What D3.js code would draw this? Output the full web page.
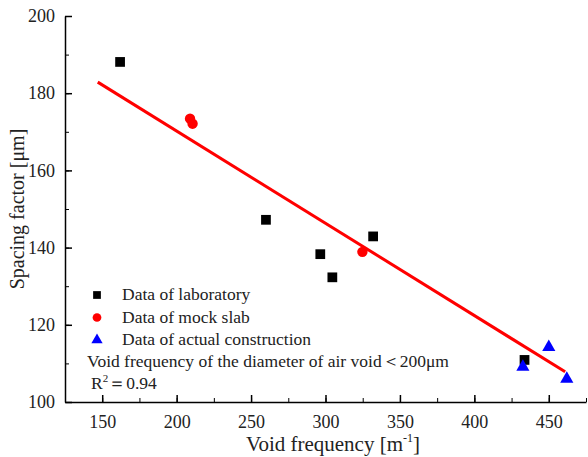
<!DOCTYPE html>
<html>
<head>
<meta charset="utf-8">
<script src="https://cdn.jsdelivr.net/npm/d3@7"></script>
<style>
body { margin: 0; background: #fff; }
text { font-family: "Liberation Serif", "Times New Roman", serif; }
</style>
</head>
<body>
<div id="chart"></div>
<script>
// data
var labX = [162, 260, 296.5, 304.6, 332, 433.7];
var labY = [188.1, 147.2, 138.3, 132.3, 142.9, 110.9];
var slabX = [209, 210.7, 324.8];
var slabY = [173.4, 172.1, 138.9];
var siteX = [432.6, 450, 462.1];
var siteY = [109.1, 114.2, 106];
var fitRange = [147, 461];
var fitSlope = -0.239;
var fitIntercept = 218.0;
var xTicks = [150, 200, 250, 300, 350, 400, 450];
var yTicks = [100, 120, 140, 160, 180, 200];
var legendNames = ["Data of laboratory", "Data of mock slab", "Data of actual construction"];

var w = 588, h = 457;
var margin = {left: 65, top: 16, right: 2, bottom: 55};

var svg = d3.select("#chart").append("svg")
    .attr("width", w)
    .attr("height", h);

var x = d3.scaleLinear().domain([125, 475]).range([margin.left, w - margin.right]);
var y = d3.scaleLinear().domain([100, 200]).range([h - margin.bottom, margin.top]);

// minor ticks first
svg.append("g")
    .attr("transform", "translate(0," + y(100) + ")")
    .call(d3.axisBottom(x).tickValues(d3.range(125, 476, 25)).tickSize(-4).tickFormat(""))
    .call(function(g) { g.select(".domain").remove(); });
svg.append("g")
    .attr("transform", "translate(" + x(125) + ",0)")
    .call(d3.axisLeft(y).tickValues(d3.range(100, 201, 10)).tickSize(-4).tickFormat(""))
    .call(function(g) { g.select(".domain").remove(); });

var xAxis = svg.append("g")
    .attr("transform", "translate(0," + y(100) + ")")
    .call(d3.axisBottom(x).tickValues(xTicks).tickSizeInner(-7).tickSizeOuter(0).tickPadding(13));
var yAxis = svg.append("g")
    .attr("transform", "translate(" + x(125) + ",0)")
    .call(d3.axisLeft(y).tickValues(yTicks).tickSizeInner(-7).tickSizeOuter(0).tickPadding(10));

[xAxis, yAxis].forEach(function(a) {
    a.selectAll("path, line").attr("stroke", "#000").attr("stroke-width", 1.5);
    a.selectAll("text").attr("font-size", 18).attr("fill", "#222")
        .style("font-family", "'Liberation Serif', serif");
});

// axis titles
svg.append("text")
    .attr("x", 333).attr("y", 451)
    .attr("text-anchor", "middle")
    .attr("font-size", 21).attr("fill", "#222")
    .html('Void frequency [m<tspan dy="-9" font-size="12">-1</tspan><tspan dy="9">]</tspan>');
svg.append("text")
    .attr("transform", "translate(24," + y(150) + ") rotate(-90)")
    .attr("text-anchor", "middle")
    .attr("font-size", 20).attr("fill", "#222")
    .text("Spacing factor [μm]");

// fitted line
svg.append("line")
    .attr("x1", x(fitRange[0])).attr("y1", y(fitIntercept + fitSlope * fitRange[0]))
    .attr("x2", x(fitRange[1])).attr("y2", y(fitIntercept + fitSlope * fitRange[1]))
    .attr("stroke", "#f00")
    .attr("stroke-width", 3);

var sq = d3.symbol().type(d3.symbolSquare).size(95);
var ci = d3.symbol().type(d3.symbolCircle).size(85);
var tr = d3.symbol().type(d3.symbolTriangle).size(75);

svg.selectAll(".lab").data(labX).enter().append("path")
    .attr("d", sq)
    .attr("transform", function(d, i) { return "translate(" + x(d) + "," + y(labY[i]) + ")"; })
    .attr("fill", "#000");
svg.selectAll(".slab").data(slabX).enter().append("path")
    .attr("d", ci)
    .attr("transform", function(d, i) { return "translate(" + x(d) + "," + y(slabY[i]) + ")"; })
    .attr("fill", "#f00");
svg.selectAll(".site").data(siteX).enter().append("path")
    .attr("d", tr)
    .attr("transform", function(d, i) { return "translate(" + x(d) + "," + y(siteY[i]) + ")"; })
    .attr("fill", "#00f");

// legend
var symbols = [d3.symbol().type(d3.symbolSquare).size(60), d3.symbol().type(d3.symbolCircle).size(60), d3.symbol().type(d3.symbolTriangle).size(55)];
var colors = ["#000", "#f00", "#00f"];
legendNames.forEach(function(name, i) {
    var ly = 295 + i * 22.5;
    svg.append("path")
        .attr("d", symbols[i])
        .attr("transform", "translate(97," + ly + ")")
        .attr("fill", colors[i]);
    svg.append("text")
        .attr("x", 122).attr("y", ly + 5)
        .attr("font-size", 17.5).attr("fill", "#222")
        .text(name);
});
svg.append("text")
    .attr("x", 87).attr("y", 367)
    .attr("font-size", 17.5).attr("fill", "#222")
    .text("Void frequency of the diameter of air void＜200μm");
svg.append("text")
    .attr("x", 91).attr("y", 389)
    .attr("font-size", 17.5).attr("fill", "#222")
    .html('R<tspan dy="-7" font-size="11">2</tspan><tspan dy="7">＝0.94</tspan>');
</script>
</body>
</html>
